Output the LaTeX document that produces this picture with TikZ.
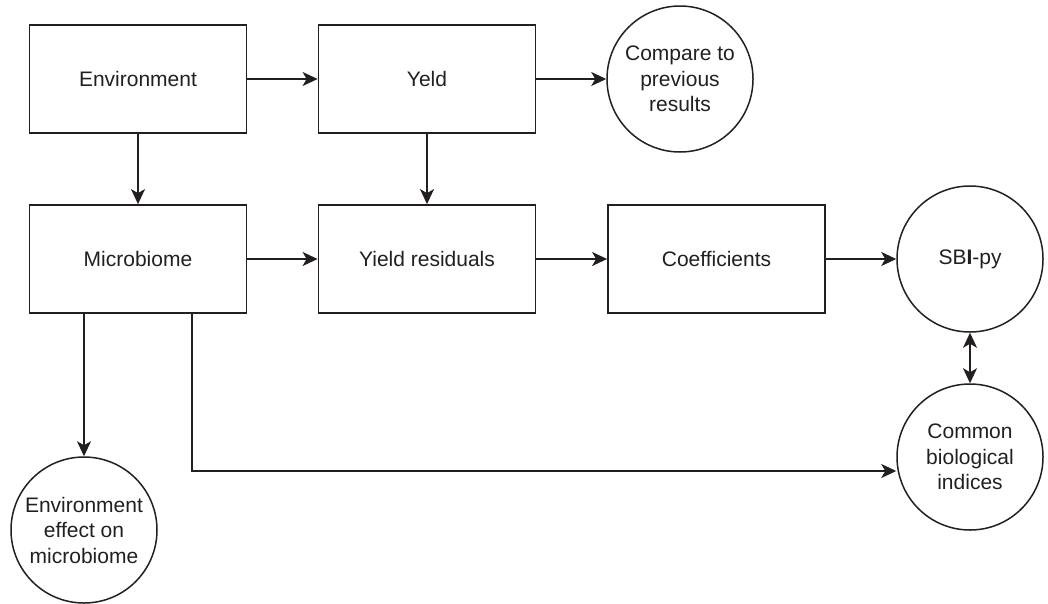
\documentclass[tikz,border=0pt]{standalone}
\usepackage{fontspec}
\setmainfont{Liberation Sans}
\usetikzlibrary{arrows.meta,calc}
\definecolor{ink}{HTML}{231F20}
\begin{document}
\begin{tikzpicture}[x=1pt,y=-1pt,
  every node/.style={font=\fontsize{21}{25.5}\selectfont, text=ink},
  boxnode/.style={draw=ink, line width=1.8pt, rectangle, minimum width=217pt, minimum height=108pt, inner sep=0pt},
  circnode/.style={draw=ink, line width=1.5pt, circle, minimum size=146pt, inner sep=0pt, align=center},
  conn/.style={draw=ink, line width=1.5pt, -{Stealth[length=15pt,width=14pt,inset=4pt]}},
  biconn/.style={draw=ink, line width=1.5pt, {Stealth[length=15pt,width=14pt,inset=4pt]}-{Stealth[length=15pt,width=14pt,inset=4pt]}}]
\useasboundingbox (0,0) rectangle (1048,603);
\node[boxnode] (env) at (138,79) {Environment};
\node[boxnode] (yeld) at (427,79) {Yeld};
\node[circnode] (cmp) at (680,79) {Compare to\\previous\\results};
\node[boxnode] (micro) at (138,259) {Microbiome};
\node[boxnode] (resid) at (427,259) {Yield residuals};
\node[boxnode] (coef) at (716.5,259) {Coefficients};
\node[circnode] (sbi) at (970,259) {SB\textbf{I}-py};
\node[circnode] (common) at (970,457) {Common\\biological\\indices};
\node[circnode] (effect) at (84,530) {Environment\\effect on\\microbiome};
\coordinate (bend) at (192,471);
\draw[conn] (env) -- (yeld);
\draw[conn] (yeld) -- (cmp);
\draw[conn] (env) -- (micro);
\draw[conn] (yeld) -- (resid);
\draw[conn] (micro) -- (resid);
\draw[conn] (resid) -- (coef);
\draw[conn] (coef) -- (sbi);
\draw[biconn] (sbi) -- (common);
\draw[conn] (micro.south -| effect.north) -- (effect.north);
\draw[conn] (micro.south -| bend) -- (bend) -- (bend -| common.west);
\end{tikzpicture}
\end{document}
